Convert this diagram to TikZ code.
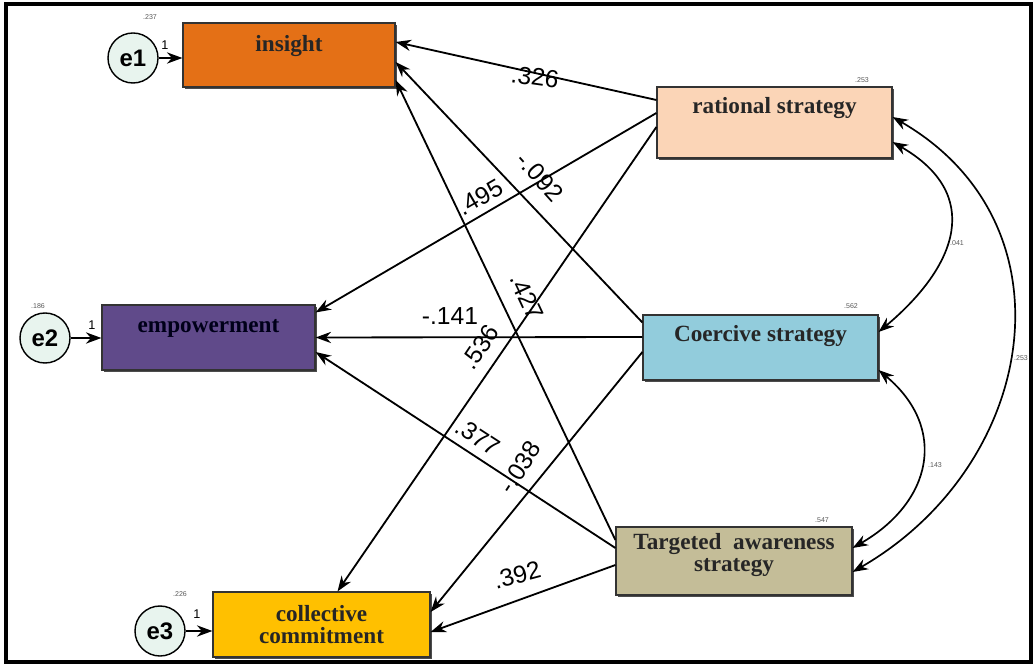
\documentclass[tikz,border=0pt]{standalone}
\usepackage{fontspec}
\setmainfont{Liberation Serif}
\newfontfamily\numfont{Liberation Sans}
\usetikzlibrary{calc,shadows,arrows.meta}
\definecolor{cins}{RGB}{228,112,22}
\definecolor{crat}{RGB}{251,213,183}
\definecolor{cemp}{RGB}{96,74,138}
\definecolor{ccoe}{RGB}{146,204,220}
\definecolor{ctar}{RGB}{196,189,152}
\definecolor{ccol}{RGB}{255,192,0}
\definecolor{cerr}{RGB}{232,244,238}
\tikzset{
 box/.style={draw=black!80,line width=0.8pt,align=center,text=black!85,
  font=\fontsize{16.5}{16}\selectfont\bfseries,
  drop shadow={shadow xshift=1.5pt,shadow yshift=-1.5pt,opacity=1,fill=black!70}},
 err/.style={circle,draw,line width=1pt,fill=cerr,minimum size=1.25cm,inner sep=0pt,
  font=\numfont\fontsize{17}{17}\selectfont\bfseries},
 effect/.style={line width=1.3pt,->,>={Stealth[length=11pt,width=8pt]}},
 covar/.style={line width=1.2pt,<->,>={Stealth[length=11pt,width=8pt]}},
 coef/.style={font=\numfont\fontsize{17.5}{17}\selectfont,inner sep=0pt},
 varlbl/.style={font=\numfont\fontsize{5}{5}\selectfont,text=black!65,inner sep=0pt},
 fixlbl/.style={font=\numfont\fontsize{9}{9}\selectfont,inner sep=0pt}
}
\begin{document}
\begin{tikzpicture}[x=0.025cm,y=0.025cm]
\useasboundingbox (0,0) rectangle (1036,665);
\fill[white] (0,0) rectangle (1036,665);
\draw[line width=3pt] (6,3) rectangle (1031,661);

\node (ins) at (289,610) [box,fill=cins,minimum width=5.3cm,minimum height=1.6cm] {insight\\~};
\node (emp) at (208.5,327.5) [box,fill=cemp,text=black!90!blue,minimum width=5.325cm,minimum height=1.625cm] {empowerment\\~};
\node (col) at (321.5,40.5) [box,fill=ccol,minimum width=5.425cm,minimum height=1.625cm] {collective\\commitment};
\node (rat) at (774.5,542.5) [box,fill=crat,minimum width=5.875cm,minimum height=1.775cm] {rational strategy\\[8pt]~};
\node (coe) at (760.5,317.5) [box,fill=ccoe,minimum width=5.875cm,minimum height=1.625cm] {Coercive strategy\\[4pt]~};
\node (tar) at (734,104) [box,fill=ctar,minimum width=5.9cm,minimum height=1.7cm] {Targeted\ \ awareness\\strategy\\[-4pt]~};

\node (e1) at (133,607) [err] {e1};
\node (e2) at (45,327) [err] {e2};
\node (e3) at (160,34) [err] {e3};
\draw[effect] (e1.east) -- (e1.east -| ins.west);
\draw[effect] (e2.east) -- (e2.east -| emp.west);
\draw[effect] (e3.east) -- (e3.east -| col.west);
\node (f1) at (165,620) [fixlbl] {1};
\node (f2) at (92,340) [fixlbl] {1};
\node (f3) at (197,51) [fixlbl] {1};
\node (v1) at (150,648) [varlbl] {.237};
\node (v2) at (38,359) [varlbl] {.186};
\node (v3) at (180,71) [varlbl] {.226};
\node (v4) at (862,585) [varlbl] {.253};
\node (v5) at (851,359) [varlbl] {.562};
\node (v6) at (822,145) [varlbl] {.547};

% paths
\draw[effect] ($(rat.west)+(0,22.5)$) -- ($(ins.east)+(0,13)$);
\draw[effect] ($(rat.west)+(0,9.5)$) -- ($(emp.east)+(0,25)$);
\draw[effect] ($(rat.west)+(0,-4.5)$) -- ($(col.north)+(16,0)$);
\draw[effect] ($(coe.west)+(0,25)$) -- ($(ins.east)+(0,-7)$);
\draw[effect] ($(coe.west)+(0,10.5)$) -- ($(emp.east)+(0,0)$);
\draw[effect] ($(coe.west)+(0,-4.5)$) -- ($(col.east)+(0,12.5)$);
\draw[effect] ($(tar.west)+(0,21)$) -- ($(ins.east)+(0,-25)$);
\draw[effect] ($(tar.west)+(0,13)$) -- ($(emp.east)+(0,-14.5)$);
\draw[effect] ($(tar.west)+(0,-4)$) -- ($(col.east)+(0,-7.5)$);
\node (p1) at (535,588) [coef,rotate=-8] {.326};
\node (p2) at (480,468) [coef,rotate=30] {.495};
\node (p3) at (540,488) [coef,rotate=-48] {-.092};
\node (p4) at (527,368) [coef,rotate=-65] {.427};
\node (p5) at (450,349) [coef] {-.141};
\node (p6) at (480,318) [coef,rotate=56] {.536};
\node (p7) at (478,228) [coef,rotate=-33] {.377};
\node (p8) at (520,198) [coef,rotate=57] {-.038};
\node (p9) at (517,90) [coef,rotate=15] {.392};

% covariances
\draw[covar] ($(rat.east)+(0,-19.5)$) to[out=-30,in=40,looseness=1.4] ($(coe.east)+(0,15.5)$);
\draw[covar] ($(coe.east)+(0,-22.5)$) to[out=-40,in=30,looseness=1.3] ($(tar.east)+(0,13)$);
\draw[covar] ($(rat.east)+(0,5.5)$) to[out=-30,in=30,looseness=1.2] ($(tar.east)+(0,-11)$);
\node (c1) at (957,422) [varlbl] {.041};
\node (c2) at (935,200) [varlbl] {.143};
\node (c3) at (1021,307) [varlbl] {.253};
\end{tikzpicture}
\end{document}
